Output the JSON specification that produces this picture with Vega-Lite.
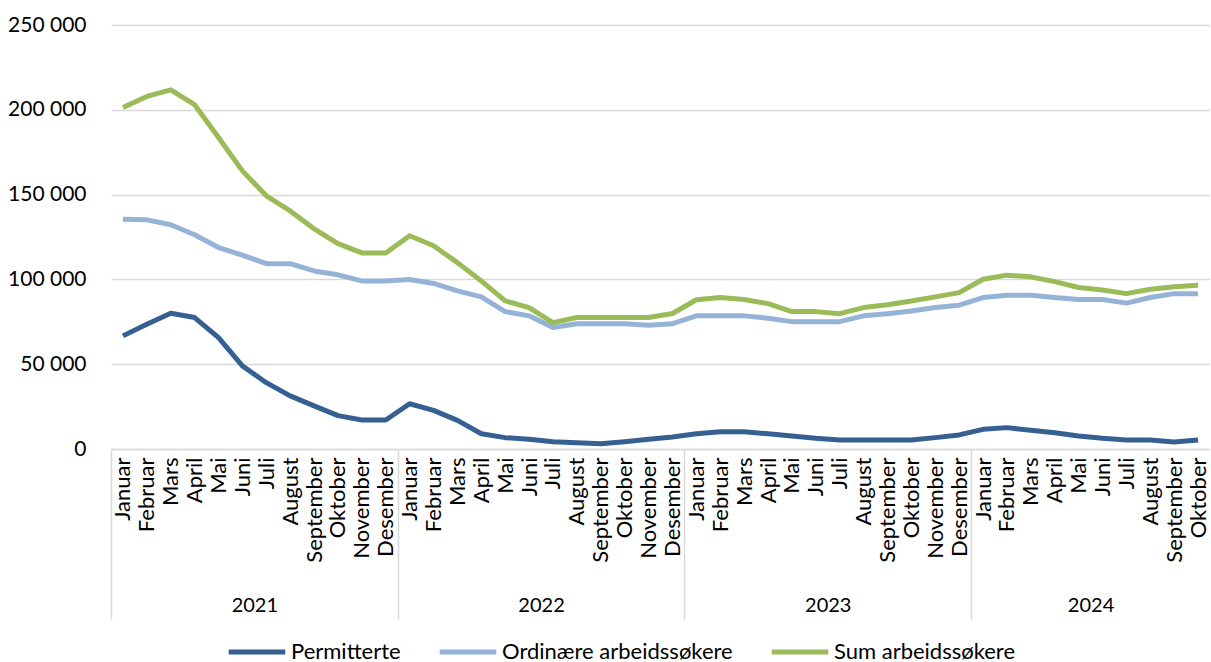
{
  "$schema": "https://vega.github.io/schema/vega-lite/v6.json",
  "width": 1099,
  "height": 424,
  "padding": {"top": 14, "left": 7, "right": 0, "bottom": 0},
  "autosize": {"type": "pad"},
  "config": {
    "locale": {"number": {"decimal": ",", "thousands": " ", "grouping": [3], "currency": ["", " kr"]}},
    "view": {"stroke": null},
    "font": "Lato"
  },
  "data": {"values": [
    {"d": "2021-01", "aar": "2021", "Permitterte": 66700, "Ordinære arbeidssøkere": 135500, "Sum arbeidssøkere": 201400},
    {"d": "2021-02", "aar": "2021", "Permitterte": 73600, "Ordinære arbeidssøkere": 135100, "Sum arbeidssøkere": 207900},
    {"d": "2021-03", "aar": "2021", "Permitterte": 80000, "Ordinære arbeidssøkere": 132200, "Sum arbeidssøkere": 211800},
    {"d": "2021-04", "aar": "2021", "Permitterte": 77500, "Ordinære arbeidssøkere": 126300, "Sum arbeidssøkere": 203000},
    {"d": "2021-05", "aar": "2021", "Permitterte": 65700, "Ordinære arbeidssøkere": 118800, "Sum arbeidssøkere": 183700},
    {"d": "2021-06", "aar": "2021", "Permitterte": 49000, "Ordinære arbeidssøkere": 114300, "Sum arbeidssøkere": 164000},
    {"d": "2021-07", "aar": "2021", "Permitterte": 39100, "Ordinære arbeidssøkere": 109300, "Sum arbeidssøkere": 149300},
    {"d": "2021-08", "aar": "2021", "Permitterte": 31300, "Ordinære arbeidssøkere": 109300, "Sum arbeidssøkere": 140400},
    {"d": "2021-09", "aar": "2021", "Permitterte": 25400, "Ordinære arbeidssøkere": 105000, "Sum arbeidssøkere": 129800},
    {"d": "2021-10", "aar": "2021", "Permitterte": 19700, "Ordinære arbeidssøkere": 102700, "Sum arbeidssøkere": 121100},
    {"d": "2021-11", "aar": "2021", "Permitterte": 17100, "Ordinære arbeidssøkere": 99100, "Sum arbeidssøkere": 115600},
    {"d": "2021-12", "aar": "2021", "Permitterte": 17100, "Ordinære arbeidssøkere": 99100, "Sum arbeidssøkere": 115600},
    {"d": "2022-01", "aar": "2022", "Permitterte": 26700, "Ordinære arbeidssøkere": 99900, "Sum arbeidssøkere": 125700},
    {"d": "2022-02", "aar": "2022", "Permitterte": 22800, "Ordinære arbeidssøkere": 97600, "Sum arbeidssøkere": 119800},
    {"d": "2022-03", "aar": "2022", "Permitterte": 16900, "Ordinære arbeidssøkere": 93200, "Sum arbeidssøkere": 109900},
    {"d": "2022-04", "aar": "2022", "Permitterte": 9000, "Ordinære arbeidssøkere": 89700, "Sum arbeidssøkere": 99100},
    {"d": "2022-05", "aar": "2022", "Permitterte": 6700, "Ordinære arbeidssøkere": 81000, "Sum arbeidssøkere": 87300},
    {"d": "2022-06", "aar": "2022", "Permitterte": 5700, "Ordinære arbeidssøkere": 78500, "Sum arbeidssøkere": 83400},
    {"d": "2022-07", "aar": "2022", "Permitterte": 4300, "Ordinære arbeidssøkere": 71600, "Sum arbeidssøkere": 74500},
    {"d": "2022-08", "aar": "2022", "Permitterte": 3700, "Ordinære arbeidssøkere": 73900, "Sum arbeidssøkere": 77500},
    {"d": "2022-09", "aar": "2022", "Permitterte": 3100, "Ordinære arbeidssøkere": 73900, "Sum arbeidssøkere": 77500},
    {"d": "2022-10", "aar": "2022", "Permitterte": 4300, "Ordinære arbeidssøkere": 73900, "Sum arbeidssøkere": 77500},
    {"d": "2022-11", "aar": "2022", "Permitterte": 5700, "Ordinære arbeidssøkere": 73000, "Sum arbeidssøkere": 77500},
    {"d": "2022-12", "aar": "2022", "Permitterte": 7100, "Ordinære arbeidssøkere": 73900, "Sum arbeidssøkere": 79900},
    {"d": "2023-01", "aar": "2023", "Permitterte": 9000, "Ordinære arbeidssøkere": 78500, "Sum arbeidssøkere": 88000},
    {"d": "2023-02", "aar": "2023", "Permitterte": 10200, "Ordinære arbeidssøkere": 78500, "Sum arbeidssøkere": 89300},
    {"d": "2023-03", "aar": "2023", "Permitterte": 10200, "Ordinære arbeidssøkere": 78500, "Sum arbeidssøkere": 88100},
    {"d": "2023-04", "aar": "2023", "Permitterte": 9000, "Ordinære arbeidssøkere": 77100, "Sum arbeidssøkere": 85700},
    {"d": "2023-05", "aar": "2023", "Permitterte": 7700, "Ordinære arbeidssøkere": 75100, "Sum arbeidssøkere": 81000},
    {"d": "2023-06", "aar": "2023", "Permitterte": 6300, "Ordinære arbeidssøkere": 75100, "Sum arbeidssøkere": 81000},
    {"d": "2023-07", "aar": "2023", "Permitterte": 5300, "Ordinære arbeidssøkere": 75100, "Sum arbeidssøkere": 79800},
    {"d": "2023-08", "aar": "2023", "Permitterte": 5300, "Ordinære arbeidssøkere": 78500, "Sum arbeidssøkere": 83400},
    {"d": "2023-09", "aar": "2023", "Permitterte": 5300, "Ordinære arbeidssøkere": 79800, "Sum arbeidssøkere": 85000},
    {"d": "2023-10", "aar": "2023", "Permitterte": 5300, "Ordinære arbeidssøkere": 81400, "Sum arbeidssøkere": 87300},
    {"d": "2023-11", "aar": "2023", "Permitterte": 6700, "Ordinære arbeidssøkere": 83400, "Sum arbeidssøkere": 89700},
    {"d": "2023-12", "aar": "2023", "Permitterte": 8300, "Ordinære arbeidssøkere": 84800, "Sum arbeidssøkere": 92200},
    {"d": "2024-01", "aar": "2024", "Permitterte": 11600, "Ordinære arbeidssøkere": 89300, "Sum arbeidssøkere": 100100},
    {"d": "2024-02", "aar": "2024", "Permitterte": 12600, "Ordinære arbeidssøkere": 90700, "Sum arbeidssøkere": 102500},
    {"d": "2024-03", "aar": "2024", "Permitterte": 11000, "Ordinære arbeidssøkere": 90700, "Sum arbeidssøkere": 101500},
    {"d": "2024-04", "aar": "2024", "Permitterte": 9600, "Ordinære arbeidssøkere": 89300, "Sum arbeidssøkere": 98700},
    {"d": "2024-05", "aar": "2024", "Permitterte": 7700, "Ordinære arbeidssøkere": 88100, "Sum arbeidssøkere": 95200},
    {"d": "2024-06", "aar": "2024", "Permitterte": 6300, "Ordinære arbeidssøkere": 88100, "Sum arbeidssøkere": 93800},
    {"d": "2024-07", "aar": "2024", "Permitterte": 5300, "Ordinære arbeidssøkere": 86000, "Sum arbeidssøkere": 91600},
    {"d": "2024-08", "aar": "2024", "Permitterte": 5300, "Ordinære arbeidssøkere": 89300, "Sum arbeidssøkere": 94200},
    {"d": "2024-09", "aar": "2024", "Permitterte": 4100, "Ordinære arbeidssøkere": 91600, "Sum arbeidssøkere": 95600},
    {"d": "2024-10", "aar": "2024", "Permitterte": 5300, "Ordinære arbeidssøkere": 91600, "Sum arbeidssøkere": 96600}
  ]},
  "layer": [
    {
      "transform": [{"fold": ["Permitterte", "Ordinære arbeidssøkere", "Sum arbeidssøkere"], "as": ["serie", "verdi"]}],
      "mark": {"type": "line", "strokeWidth": 5, "strokeJoin": "round", "strokeCap": "butt"},
      "encoding": {
        "x": {
          "field": "d", "type": "ordinal",
          "scale": {"type": "point", "padding": 0.5},
          "axis": {
            "title": null, "labelAngle": -90, "labelAlign": "right", "labelBaseline": "middle",
            "labelPadding": 8, "ticks": false, "grid": false,
            "domainColor": "#D9D9D9", "domainWidth": 1.5,
            "labelFontSize": 22, "labelColor": "#000000",
            "labelExpr": "['Januar','Februar','Mars','April','Mai','Juni','Juli','August','September','Oktober','November','Desember'][toNumber(slice(datum.value,5))-1]"
          }
        },
        "y": {
          "field": "verdi", "type": "quantitative",
          "scale": {"domain": [0, 250000]},
          "axis": {
            "title": null, "values": [0, 50000, 100000, 150000, 200000, 250000], "format": ",d",
            "labelFontSize": 21, "labelColor": "#000000", "labelPadding": 25,
            "ticks": false, "domain": false, "gridColor": "#D9D9D9", "gridWidth": 1.5
          }
        },
        "color": {
          "field": "serie", "type": "nominal",
          "scale": {"domain": ["Permitterte", "Ordinære arbeidssøkere", "Sum arbeidssøkere"], "range": ["#376092", "#95B3D7", "#9BBB59"]},
          "legend": {
            "title": null, "orient": "none", "legendX": 115, "legendY": 596, "direction": "horizontal",
            "symbolType": "stroke", "symbolStrokeWidth": 5, "symbolSize": 3200,
            "labelFontSize": 22, "labelColor": "#000000", "labelOffset": 3, "labelLimit": 400,
            "columnPadding": 28
          }
        }
      }
    },
    {
      "mark": {"type": "rule", "opacity": 0},
      "encoding": {
        "x": {
          "field": "d", "type": "ordinal",
          "scale": {"type": "band", "paddingInner": 0, "paddingOuter": 0},
          "axis": {
            "title": null, "orient": "bottom",
            "values": ["2021-01", "2022-01", "2023-01", "2024-01"],
            "labelExpr": "slice(datum.value, 0, 4)",
            "tickSize": 170, "tickOffset": -11.95,
            "tickColor": "#D9D9D9", "tickWidth": 1.5, "domain": false, "grid": false,
            "labelAngle": 0, "labelAlign": "center", "labelPadding": -24, "labelFontSize": 20, "labelColor": "#000000",
            "labelOffset": {"condition": {"test": "datum.value == '2024-01'", "value": 119.45}, "value": 143.35}
          }
        }
      }
    }
  ],
  "resolve": {"scale": {"x": "independent"}, "axis": {"x": "independent"}}
}
